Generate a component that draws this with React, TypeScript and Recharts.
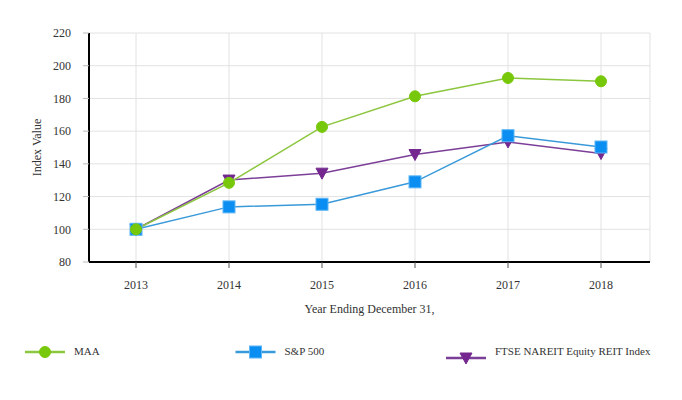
import { CartesianGrid, Line, LineChart, XAxis, YAxis } from "recharts"

const years = ["2013", "2014", "2015", "2016", "2017", "2018"]
const maa = [100, 128.4, 162.6, 181.3, 192.5, 190.5]
const sp500 = [100, 113.7, 115.3, 129.0, 157.2, 150.3]
const ftse = [100, 130.1, 134.3, 145.7, 153.4, 146.3]
const yTicks = [80, 100, 120, 140, 160, 180, 200, 220]

const data = years.map((year, i) => ({
    year,
    maa: maa[i],
    sp: sp500[i],
    ftse: ftse[i],
}))

const font = "Liberation Serif"

const series = [
    { key: "maa", name: "MAA", line: "#8cc63f", fill: "#77c80a", stroke: "#77c80a", shape: "circle" },
    { key: "sp", name: "S&P 500", line: "#3a9ad9", fill: "#0a8ef2", stroke: "#5cb6f5", shape: "square" },
    { key: "ftse", name: "FTSE NAREIT Equity REIT Index", line: "#7b3f98", fill: "#74288f", stroke: "#74288f", shape: "triangle" },
]

function Marker({ cx, cy, shape, fill, stroke }: any) {
    if (cx == null || cy == null) return null
    if (shape === "square") {
        return <rect x={cx - 6} y={cy - 6} width={12} height={12} fill={fill} stroke={stroke} strokeWidth={1} />
    }
    if (shape === "triangle") {
        return <path d={`M${cx - 6},${cy - 5} L${cx + 6},${cy - 5} L${cx},${cy + 6} Z`} fill={fill} stroke={stroke} />
    }
    return <circle cx={cx} cy={cy} r={5.5} fill={fill} stroke={stroke} />
}

const textStyle = { fontFamily: font }

export default function App() {
    // draw MAA last so its markers sit on top, like the original
    const drawOrder = [...series].reverse()
    return (
        <div style={{ position: "relative", width: 674, height: 384, fontFamily: font }}>
            <LineChart
                width={674}
                height={340}
                data={data}
                margin={{ top: 25, right: 32, bottom: 35, left: 0 }}
                style={textStyle}
            >
                <CartesianGrid stroke="#e2e2e2" strokeWidth={1} />
                <XAxis
                    dataKey="year"
                    height={51}
                    padding={{ left: 47, right: 49 }}
                    stroke="#000"
                    strokeWidth={2}
                    tickLine={{ stroke: "#555", strokeWidth: 1 }}
                    tickSize={6}
                    tickMargin={12}
                    tick={{ fill: "#333", fontSize: 12, style: textStyle }}
                    label={{ value: "Year Ending December 31,", position: "insideBottom", offset: 0, fill: "#333", fontSize: 12, style: textStyle }}
                />
                <YAxis
                    width={81}
                    domain={[80, 220]}
                    ticks={yTicks}
                    stroke="#000"
                    strokeWidth={2}
                    tickLine={{ stroke: "#bbb", strokeWidth: 1 }}
                    tickSize={6}
                    tickMargin={12}
                    tick={{ fill: "#333", fontSize: 12, style: textStyle }}
                    label={{ value: "Index Value", angle: -90, position: "insideLeft", offset: 29, fill: "#333", fontSize: 12, style: { textAnchor: "middle", fontFamily: font } }}
                />
                {drawOrder.map((s) => (
                    <Line
                        key={s.key}
                        type="linear"
                        dataKey={s.key}
                        name={s.name}
                        stroke={s.line}
                        strokeWidth={1.5}
                        isAnimationActive={false}
                        dot={(p: any) => <Marker key={`${s.key}-${p.index}`} cx={p.cx} cy={p.cy} shape={s.shape} fill={s.fill} stroke={s.stroke} />}
                        activeDot={false}
                    />
                ))}
            </LineChart>
            <svg width={674} height={40} style={{ position: "absolute", left: 0, top: 325 }}>
                {series.map((s, i) => {
                    const x0 = 17 + i * 210.5
                    const ly = s.shape === "triangle" ? 25 : 19
                    return (
                        <g key={s.key}>
                            <line x1={x0} x2={x0 + 40} y1={ly} y2={ly} stroke={s.line} strokeWidth={2.5} />
                            <Marker cx={x0 + 20} cy={ly} shape={s.shape} fill={s.fill} stroke={s.stroke} />
                            <text x={x0 + 49} y={18} dy="0.35em" fontSize={11} fill="#333" style={textStyle}>
                                {s.name}
                            </text>
                        </g>
                    )
                })}
            </svg>
        </div>
    )
}
